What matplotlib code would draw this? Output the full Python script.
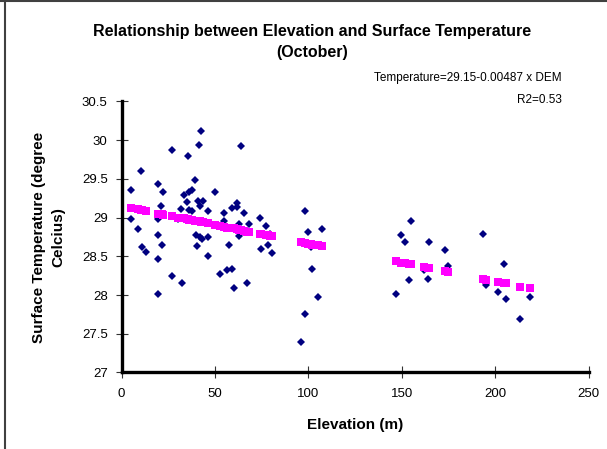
import matplotlib.pyplot as plt
from matplotlib.lines import Line2D

plt.rcParams['font.family'] = ['Liberation Sans', 'DejaVu Sans']

# Elevation (m) and observed surface temperature (degree Celcius)
elevacion = [10.3, 5.1, 5.1, 9.0, 10.8, 13.1, 19.7, 22.1, 21.1, 19.7, 19.7, 21.5, 19.7, 19.7,
             42.4, 41.3, 27.0, 35.8, 39.3, 37.7, 36.3, 33.6, 34.9, 40.8, 43.5, 42.0, 31.7, 36.3,
             37.9, 46.1, 30.4, 39.7, 42.0, 42.9, 46.1, 40.3, 46.1, 27.0, 32.4,
             63.8, 50.1, 54.7, 59.0, 62.0, 61.7, 65.6, 68.4, 63.1, 54.7, 63.1, 57.5, 56.5, 59.0,
             52.7, 67.2, 60.1, 74.1, 77.4, 79.5, 78.6, 74.5, 80.7,
             98.4, 100.0, 107.3, 101.4, 101.8, 105.0, 98.4, 95.9,
             154.8, 149.6, 151.8, 164.8, 173.3, 174.6, 161.9, 154.1, 164.2, 146.8,
             193.7, 204.9, 195.0, 201.4, 206.0, 213.3, 218.5]

temperatura = [29.60, 29.36, 28.98, 28.85, 28.62, 28.55, 29.44, 29.33, 29.15, 28.98, 28.78, 28.65, 28.47, 28.01,
               30.12, 29.94, 29.87, 29.80, 29.49, 29.36, 29.33, 29.29, 29.20, 29.21, 29.22, 29.15, 29.11, 29.10,
               29.08, 29.09, 28.98, 28.78, 28.75, 28.72, 28.75, 28.63, 28.50, 28.25, 28.16,
               29.92, 29.33, 29.06, 29.13, 29.19, 29.14, 29.06, 28.92, 28.92, 28.95, 28.76, 28.65, 28.33, 28.34,
               28.27, 28.16, 28.09, 28.99, 28.89, 28.79, 28.65, 28.59, 28.54,
               29.08, 28.81, 28.85, 28.62, 28.34, 27.97, 27.75, 27.39,
               28.95, 28.77, 28.69, 28.69, 28.58, 28.38, 28.33, 28.19, 28.21, 28.02,
               28.79, 28.40, 28.13, 28.04, 27.95, 27.69, 27.98]

# Predicted temperature (pink squares), read at the same elevations
predicha = [29.10, 29.13, 29.13, 29.11, 29.10, 29.09, 29.05, 29.04, 29.05, 29.05, 29.05, 29.05, 29.05, 29.05,
            28.94, 28.95, 29.02, 28.98, 28.96, 28.97, 28.97, 28.99, 28.98, 28.95, 28.94, 28.95, 29.00, 28.97,
            28.97, 28.93, 29.00, 28.96, 28.95, 28.94, 28.93, 28.95, 28.93, 29.02, 28.99,
            28.84, 28.91, 28.88, 28.86, 28.85, 28.85, 28.83, 28.82, 28.84, 28.88, 28.84, 28.87, 28.87, 28.86,
            28.89, 28.82, 28.86, 28.79, 28.77, 28.76, 28.77, 28.79, 28.76,
            28.67, 28.66, 28.63, 28.66, 28.65, 28.64, 28.67, 28.68,
            28.40, 28.42, 28.41, 28.35, 28.31, 28.30, 28.36, 28.40, 28.35, 28.44,
            28.21, 28.15, 28.20, 28.17, 28.15, 28.11, 28.09]

x_ticks = [0, 50, 100, 150, 200, 250]
y_ticks = [27, 27.5, 28, 28.5, 29, 29.5, 30, 30.5]
y_tick_labels = ['27', '27.5', '28', '28.5', '29', '29.5', '30', '30.5']

fig = plt.figure(figsize=(6.07, 4.49), dpi=100)
ax = fig.add_axes([0.2002, 0.1704, 0.7694, 0.6036])

ax.plot(elevacion, temperatura, linestyle='none', marker='D', markersize=3.6,
        color='#000080', markeredgewidth=0)
ax.plot(elevacion, predicha, linestyle='none', marker='s', markersize=5.3,
        color='#FF00FF', markeredgewidth=0)

ax.set_xlim(0, 250)
ax.set_ylim(27, 30.5)
ax.set_xticks(x_ticks)
ax.set_yticks(y_ticks)
ax.set_yticklabels(y_tick_labels)

ax.spines['top'].set_visible(False)
ax.spines['right'].set_visible(False)
ax.spines['left'].set_linewidth(2.4)
ax.spines['bottom'].set_linewidth(2.4)
ax.tick_params(direction='inout', length=8, width=0.8, color='#333333',
               labelsize=9.5)
ax.tick_params(axis='y', pad=6)
ax.tick_params(axis='x', pad=7)

ax.set_xlabel('Elevation (m)', fontsize=11, fontweight='bold', labelpad=13)
ax.set_ylabel('Surface Temperature (degree\nCelcius)', fontsize=11, fontweight='bold',
              labelpad=12, linespacing=1.5)

fig.text(0.514, 0.906, 'Relationship between Elevation and Surface Temperature\n(October)',
         ha='center', va='center', fontsize=11.5, fontweight='bold', linespacing=1.5)
fig.text(0.925, 0.826, 'Temperature=29.15-0.00487 x DEM', ha='right', va='center', fontsize=8.5)
fig.text(0.925, 0.777, 'R2=0.53', ha='right', va='center', fontsize=8.5)

# marco de la imagen
fig.add_artist(Line2D([0.009, 0.009], [0, 1], transform=fig.transFigure, color='#404040', lw=1.5))
fig.add_artist(Line2D([0, 1], [0.998, 0.998], transform=fig.transFigure, color='#404040', lw=1.5))

fig.savefig('out.png', dpi=100)
